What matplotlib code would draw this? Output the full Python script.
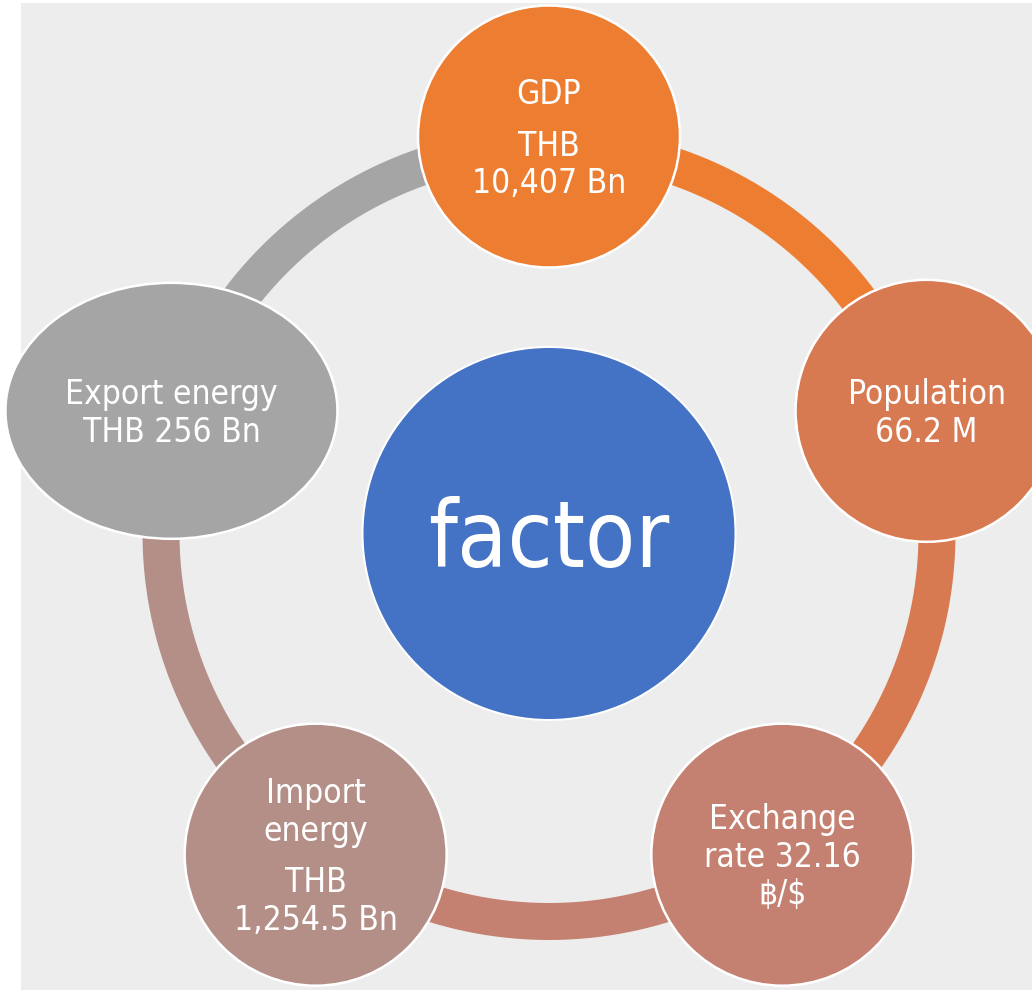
import numpy as np
import matplotlib
matplotlib.use("Agg")
import matplotlib.pyplot as plt
from matplotlib.patches import Circle, Ellipse, Rectangle
from matplotlib import font_manager as fm

# ---- data ----
center_label = "factor"
node_labels = [
    "GDP\n\nTHB\n10,407 Bn",
    "Population\n66.2 M",
    "Exchange\nrate 32.16\n฿/$",
    "Import\nenergy\n\nTHB\n1,254.5 Bn",
    "Export energy\nTHB 256 Bn",
]
node_colors = ["#ED7D31", "#D87A51", "#C48070", "#B38F88", "#A5A5A5"]
center_color = "#4472C4"
bg_color = "#EDEDED"

# ---- layout (pixels) ----
W, H = 1032, 991
DPI = 100
cx, cy = 549, 533.5
node_dist = 397
ring_r = 388
ring_w_px = 37
node_rx = [131, 131, 131, 131, 166]
node_ry = [131, 131, 131, 131, 128]
center_r = 186.5
start_angle = 90
n = len(node_labels)
angles = [start_angle - i * 360 / n for i in range(n)]

fp = fm.FontProperties(family="DejaVu Sans", stretch="condensed")
condensed = "Condensed" in fm.findfont(fp)
if condensed:
    font_kw = dict(family="DejaVu Sans", stretch="condensed")
    fs_node, fs_center = 24, 66
else:
    font_kw = dict(family="DejaVu Sans")
    fs_node, fs_center = 21.5, 60

px = 72 / DPI
fig = plt.figure(figsize=(W / DPI, H / DPI), dpi=DPI)
fig.patch.set_facecolor("white")
ax = fig.add_axes([0, 0, 1, 1])
ax.set_xlim(0, W)
ax.set_ylim(H, 0)
ax.set_aspect("equal")
ax.axis("off")

ax.add_patch(Rectangle((21, 3), W - 21, 987, facecolor=bg_color, edgecolor="none", zorder=0))

def pos(a, r):
    t = np.deg2rad(a)
    return cx + r * np.cos(t), cy - r * np.sin(t)

# ring segments
for i in range(n):
    a0 = angles[i]
    a1 = angles[i] - 360 / n
    t = np.linspace(a0, a1, 200)
    xs, ys = pos(t, ring_r)
    ax.plot(xs, ys, color=node_colors[i], lw=ring_w_px * px, solid_capstyle="butt", zorder=1)

# center circle
ax.add_patch(Circle((cx, cy), center_r, facecolor=center_color, edgecolor="white", lw=2 * px, zorder=2))
fs_c_px = fs_center / px
ax.text(cx, cy + 33.5, center_label, ha="center", va="baseline", color="white",
        fontsize=fs_center, zorder=5, **font_kw)

line_step = 37.5
para_gap = 14
fs_px = fs_node / px
for i in range(n):
    x, y = pos(angles[i], node_dist)
    ax.add_patch(Ellipse((x, y), 2 * node_rx[i], 2 * node_ry[i], facecolor=node_colors[i],
                         edgecolor="white", lw=2.5 * px, zorder=3))
    paras = node_labels[i].split("\n\n")
    offs = []
    cur = 0.0
    for pi, p in enumerate(paras):
        if pi > 0:
            cur += line_step + para_gap
        for li, line in enumerate(p.split("\n")):
            if li > 0:
                cur += line_step
            offs.append((cur, line))
    mid = offs[-1][0] / 2
    for o, line in offs:
        ax.text(x, y + o - mid + 0.36 * fs_px, line, ha="center", va="baseline", color="white",
                fontsize=fs_node, zorder=5, **font_kw)

fig.savefig("out.png", dpi=DPI, facecolor=fig.get_facecolor())
